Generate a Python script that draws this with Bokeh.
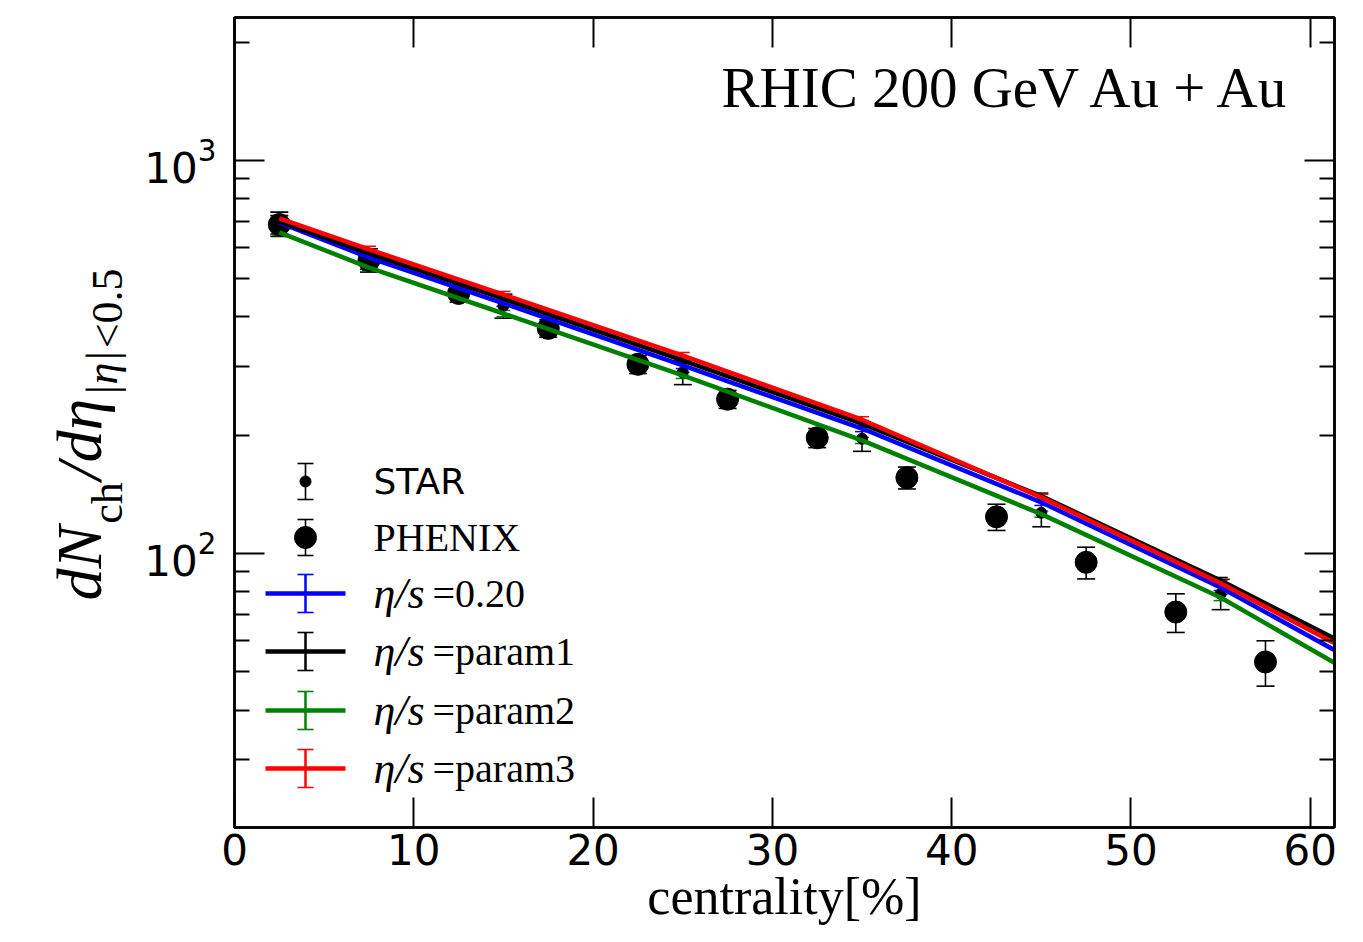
import math
from bokeh.plotting import figure
from bokeh.layouts import row
from bokeh.models import (Range1d, LinearAxis, LogAxis, FixedTicker, ColumnDataSource,
                          Whisker, TeeHead, Label, CustomJSTickFormatter, LinearScale)
from bokeh.embed import file_html
from bokeh.resources import INLINE

# ---------------- data ----------------
star_x = [2.5, 7.5, 15, 25, 35, 45, 55]
star_y = [690, 558, 427, 289, 196, 127, 79]
star_err = [49, 38, 30, 20, 14, 10, 7]

phenix_x = [2.5, 7.5, 12.5, 17.5, 22.5, 27.5, 32.5, 37.5, 42.5, 47.5, 52.5, 57.5]
phenix_y = [687, 557, 459, 374, 303, 247, 197, 156, 124, 95, 71, 53]
phenix_err = [37, 28, 23, 19, 16, 13, 11, 10, 9.5, 8.8, 8, 7]

model_x = [2.5, 7.5, 15, 25, 35, 45, 55, 65]
model_020 = [695, 566, 433, 301, 208, 135, 82, 46]
model_p1 = [700, 580, 445, 310, 214, 140, 85.4, 50]
model_p2 = [656, 534, 408, 284, 194, 126, 77.3, 42.3]
model_p3 = [712, 594, 456, 319, 219, 139, 84, 48.4]
model_rel_err = 0.018

models = [
    ("0.20", model_020, "#0000ff"),
    ("param1", model_p1, "#000000"),
    ("param2", model_p2, "#008000"),
    ("param3", model_p3, "#ff0000"),
]

x_ticks = [0, 10, 20, 30, 40, 50, 60]
y_ticks = [100, 1000]
y_minor = [20, 30, 40, 50, 60, 70, 80, 90, 200, 300, 400, 500, 600, 700, 800, 900, 2000]

SERIF = "Liberation Serif"
SANS = "DejaVu Sans"

YLAB_W = 135          # width of the strip holding the y-axis title
FRAME_TOP = 17
FRAME_H = 810
BOTTOM = 115

# ---------------- main figure ----------------
p = figure(frame_width=1100, frame_height=FRAME_H, y_axis_type="log",
           x_range=Range1d(0, 61.35), y_range=Range1d(20.1, 2310),
           output_backend="svg", toolbar_location=None,
           min_border_left=234 - YLAB_W, min_border_top=FRAME_TOP, min_border_right=20,
           min_border_bottom=BOTTOM)
p.grid.visible = False
p.outline_line_color = "black"
p.outline_line_width = 2.5
p.background_fill_color = "white"
p.border_fill_color = "white"

bottom_axis = p.xaxis[0]
left_axis = p.yaxis[0]

# pixel-like helper ranges for legend/labels inside the frame
p.extra_x_ranges = {"leg": Range1d(0, 1100)}
p.extra_y_ranges = {"leg": Range1d(0, FRAME_H)}
p.extra_x_scales = {"leg": LinearScale()}
p.extra_y_scales = {"leg": LinearScale()}

xt = FixedTicker(ticks=x_ticks, minor_ticks=[])
yt = FixedTicker(ticks=y_ticks, minor_ticks=y_minor)
bottom_axis.ticker = xt
left_axis.ticker = yt

top_axis = LinearAxis(ticker=xt, formatter=CustomJSTickFormatter(code="return ''"))
right_axis = LogAxis(ticker=yt, formatter=CustomJSTickFormatter(code="return ''"))
p.add_layout(top_axis, "above")
p.add_layout(right_axis, "right")

for ax in [bottom_axis, left_axis, top_axis, right_axis]:
    ax.axis_line_width = 2.5
    ax.axis_line_color = "black"
    ax.major_tick_in = 30
    ax.major_tick_out = 0
    ax.minor_tick_in = 15
    ax.minor_tick_out = 0
    ax.major_tick_line_width = 2
    ax.minor_tick_line_width = 2
    ax.major_tick_line_color = "black"
    ax.minor_tick_line_color = "black"
    ax.major_label_text_font = SANS
    ax.major_label_text_color = "black"

for ax in [top_axis, right_axis]:
    ax.major_label_text_font_size = "1px"
    ax.major_label_standoff = 0

bottom_axis.major_label_text_font_size = "42px"
bottom_axis.major_label_standoff = 6
bottom_axis.axis_label = "centrality[%]"
bottom_axis.axis_label_text_font = SERIF
bottom_axis.axis_label_text_font_style = "normal"
bottom_axis.axis_label_text_font_size = "52px"
bottom_axis.axis_label_text_color = "black"
bottom_axis.axis_label_standoff = 0
left_axis.major_label_text_font_size = "42px"
left_axis.major_label_standoff = 18

# ---------------- data error bars + markers ----------------
def whisk(xs, ys, errs, color, size, lw):
    src = ColumnDataSource(dict(x=xs, lo=[y - e for y, e in zip(ys, errs)],
                                hi=[y + e for y, e in zip(ys, errs)]))
    w = Whisker(source=src, base="x", lower="lo", upper="hi", dimension="height",
                line_color=color, line_width=lw,
                upper_head=TeeHead(size=size, line_color=color, line_width=lw),
                lower_head=TeeHead(size=size, line_color=color, line_width=lw))
    p.add_layout(w)

whisk(phenix_x, phenix_y, phenix_err, "black", 18, 1.6)
whisk(star_x, star_y, star_err, "black", 18, 1.6)
p.scatter(phenix_x, phenix_y, size=22, color="black", marker="circle")
p.scatter(star_x, star_y, size=11, color="black", marker="circle")

# ---------------- model curves ----------------
for name, ys, col in models:
    whisk(model_x, ys, [y * model_rel_err for y in ys], col, 14, 1.5)
    p.line(model_x, ys, line_color=col, line_width=4.5)

# ---------------- legend (pixel-like coordinates inside frame) ----------------
LX, L0, L1, TX = 71, 31, 111, 139
rows = [346, 290, 234, 176, 117, 59]
BAR = 19
CAP = 8

def leg_errbar(y, half, color, lw):
    p.segment([LX], [y - half], [LX], [y + half], line_color=color, line_width=lw,
              x_range_name="leg", y_range_name="leg")
    p.segment([LX - CAP, LX - CAP], [y - half, y + half], [LX + CAP, LX + CAP],
              [y - half, y + half], line_color=color, line_width=1.6,
              x_range_name="leg", y_range_name="leg")

leg_errbar(rows[0], 18, "black", 1.6)
p.scatter([LX], [rows[0]], size=11, color="black", x_range_name="leg", y_range_name="leg")
leg_errbar(rows[1], 18, "black", 1.6)
p.scatter([LX], [rows[1]], size=22, color="black", x_range_name="leg", y_range_name="leg")

def leg_label(x, y, text, font, size, style="normal"):
    p.add_layout(Label(x=x, y=y, text=text, text_font=font, text_font_size=size,
                       text_font_style=style, text_color="black", text_baseline="middle",
                       x_range_name="leg", y_range_name="leg"))

leg_label(TX, rows[0], "STAR", SANS, "36px")
leg_label(TX, rows[1], "PHENIX", SERIF, "40px")

for (name, ys, col), ry in zip(models, rows[2:]):
    p.segment([L0], [ry], [L1], [ry], line_color=col, line_width=4.5,
              x_range_name="leg", y_range_name="leg")
    leg_errbar(ry, BAR, col, 2.5)
    leg_label(TX, ry, "η/s", SERIF, "44px", "italic")
    leg_label(TX + 59, ry, "=" + name, SERIF, "40px")

# ---------------- title inside plot ----------------
p.add_layout(Label(x=1059, y=740, text="RHIC 200 GeV Au + Au", text_font=SERIF,
                   text_color="black", text_font_size="57px", text_align="right",
                   text_baseline="alphabetic", x_range_name="leg", y_range_name="leg"))

# ---------------- y-axis title strip (page pixel coordinates, y downward) ----------------
yl = figure(frame_width=YLAB_W, frame_height=FRAME_H, x_range=Range1d(0, YLAB_W),
            y_range=Range1d(FRAME_TOP + FRAME_H, FRAME_TOP), output_backend="svg",
            toolbar_location=None, x_axis_location=None, y_axis_location=None,
            min_border_left=0, min_border_right=0, min_border_top=FRAME_TOP,
            min_border_bottom=BOTTOM)
yl.grid.visible = False
yl.outline_line_color = None
yl.background_fill_color = "white"
yl.border_fill_color = "white"

rot = math.pi / 2
F_MAIN, F_SUB = 64, 44
# (text, style, font size, baseline x, advance width in em)
ylab_parts = [
    ("dN", "italic", F_MAIN, 103, 1.167),
    ("ch", "normal", F_SUB, 123, 0.944),
    ("/dη", "italic", F_MAIN, 103, 1.278),
    ("|η|", "italic", F_SUB, 118, 1.05),
    ("<0.5", "normal", F_SUB, 123, 1.814),
]
pos = 600.0
for txt, style, fs, bx, em in ylab_parts:
    shift = 0.37 * fs   # renderer places the alphabetic baseline this far below the anchor
    yl.add_layout(Label(x=bx - shift, y=pos, text=txt, text_font=SERIF,
                        text_font_style=style, text_color="black",
                        text_font_size=f"{fs}px", angle=rot,
                        text_align="left", text_baseline="alphabetic"))
    pos -= em * fs + 2

layout = row(yl, p, spacing=0)
open("out.html", "w").write(file_html(layout, INLINE))
